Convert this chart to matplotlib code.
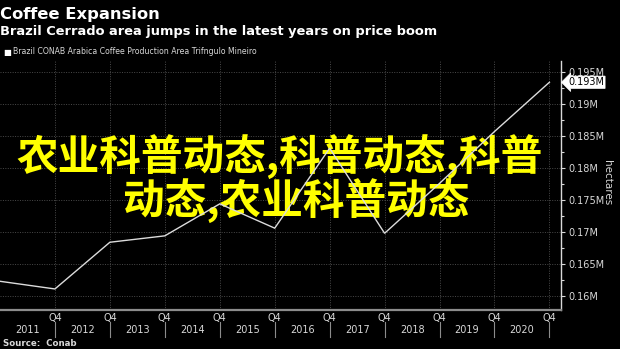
import matplotlib.pyplot as plt
import matplotlib.ticker as mticker

# Trifngulo Mineiro arabica area, Q4 of each crop year (hectares)
years = [2010, 2011, 2012, 2013, 2014, 2015, 2016, 2017, 2018, 2019, 2020]
area_ha = [162300, 161100, 168400, 169400, 174400, 170600, 183100, 169800, 177600, 185700, 193400]
year_labels = ['2011', '2012', '2013', '2014', '2015', '2016', '2017', '2018', '2019', '2020']
y_major = [160000, 165000, 170000, 175000, 180000, 185000, 190000, 195000]

overlay_1 = '农业科普动态,科普动态,科普'
overlay_2 = '动态,农业科普动态'

fg = '#d9d9d9'
grid_c = '#4a4a4a'

fig = plt.figure(figsize=(6.2, 3.49), dpi=100, facecolor='black')
ax = fig.add_axes([0.0, 0.1117, 0.9048, 0.7135], facecolor='black')

ax.plot(years, area_ha, color='#dcdcdc', lw=1.0, solid_joinstyle='miter', zorder=3)

ax.set_xlim(2010, 2020.21)
ax.set_ylim(157810, 196720)

# y axis on the right with M labels
ax.yaxis.tick_right()
ax.yaxis.set_major_locator(mticker.FixedLocator(y_major))
ax.yaxis.set_minor_locator(mticker.MultipleLocator(2500))
ax.yaxis.set_major_formatter(mticker.FuncFormatter(lambda v, p: f'{v / 1e6:g}M'))
ax.tick_params(axis='y', which='major', length=3, width=0.8, color=fg,
               labelsize=7, labelcolor=fg, pad=2)
ax.tick_params(axis='y', which='minor', length=2, width=0.8, color=fg)

ax.set_xticks(years[1:])
ax.set_xticklabels(['Q4'] * len(years[1:]))
ax.tick_params(axis='x', length=0, labelsize=7, labelcolor=fg, pad=2)

ax.grid(True, which='major', color=grid_c, ls=(0, (1, 1.5)), lw=0.7)

for side in ['top', 'left']:
    ax.spines[side].set_visible(False)
ax.spines['right'].set_color(fg)
ax.spines['right'].set_linewidth(1.0)
ax.spines['bottom'].set_color('#8c8c8c')
ax.spines['bottom'].set_linewidth(1.6)

# year labels sit between the Q4 marks, with separators at each Q4
xt = ax.get_xaxis_transform()
for yr, lab in zip(years[1:], year_labels):
    ax.text(yr - 0.5, -0.08, lab, transform=xt, ha='center', va='center',
            fontsize=7, color=fg)
    ax.plot([yr, yr], [-0.048, -0.108], transform=xt, color='#8c8c8c',
            lw=0.8, clip_on=False)

# last value tag
last = area_ha[-1]
ax.annotate(f'{last / 1e6:.3f}M', xy=(1.0, last), xycoords=('axes fraction', 'data'),
            xytext=(5, 0), textcoords='offset points', ha='left', va='center',
            fontsize=7, color='black',
            bbox=dict(boxstyle='larrow,pad=0.12', fc='white', ec='white', lw=0.5))

fig.text(0.979, 1 - 183 / 349, 'hectares', rotation=270, ha='center', va='center',
         fontsize=7.5, color=fg)

fig.text(0.0, 1 - 14 / 349, 'Coffee Expansion', ha='left', va='center',
         fontsize=11.8, fontweight='bold', color='white')
fig.text(0.0, 1 - 32 / 349, 'Brazil Cerrado area jumps in the latest years on price boom',
         ha='left', va='center', fontsize=9.4, fontweight='bold', color='white')
fig.text(7.5 / 620, 1 - 52 / 349, '\u25a0', ha='center', va='center', fontsize=6, color='white')
fig.text(13 / 620, 1 - 52 / 349, 'Brazil CONAB Arabica Coffee Production Area Trifngulo Mineiro',
         ha='left', va='center', fontsize=5.6, color=fg)
fig.text(3 / 620, 1 - 343 / 349, 'Source:  Conab', ha='left', va='center',
         fontsize=6.2, fontweight='bold', color=fg)

# yellow caption, drawn under the data line
cjk = ['Noto Sans CJK SC', 'DejaVu Sans']
ax.text(280 / 620, 1 - 158 / 349, overlay_1, transform=fig.transFigure,
        ha='center', va='center', fontsize=30, fontweight='bold',
        color='#ffff00', family=cjk, zorder=2.5, clip_on=False)
ax.text(296 / 620, 1 - 202 / 349, overlay_2, transform=fig.transFigure,
        ha='center', va='center', fontsize=30, fontweight='bold',
        color='#ffff00', family=cjk, zorder=2.5, clip_on=False)

fig.savefig('out.png', dpi=100, facecolor='black')
